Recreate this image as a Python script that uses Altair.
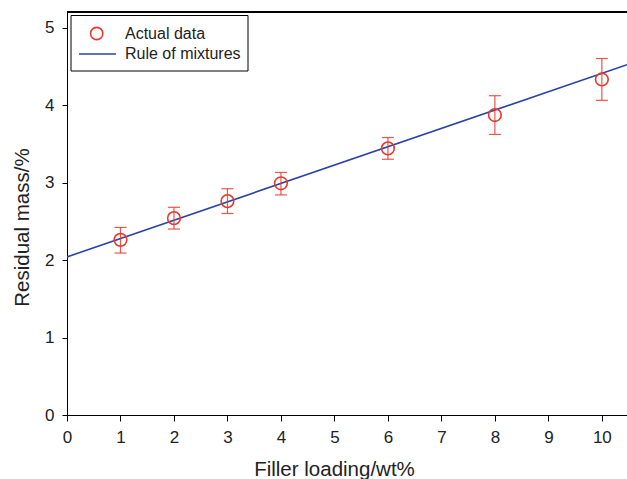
import altair as alt
import pandas as pd

# Data
loading = [1, 2, 3, 4, 6, 8, 10]
residual = [2.26, 2.54, 2.76, 2.99, 3.44, 3.87, 4.33]
err_high = [2.42, 2.68, 2.92, 3.13, 3.58, 4.12, 4.60]
err_low = [2.09, 2.40, 2.60, 2.84, 3.30, 3.62, 4.06]

mix_x = [0, 10.47]
mix_y = [2.04, 4.52]

x_ticks = [0, 1, 2, 3, 4, 5, 6, 7, 8, 9, 10]
y_ticks = [0, 1, 2, 3, 4, 5]

legend_labels = ["Actual data", "Rule of mixtures"]

RED = "#e5392e"
BLUE = "#2b44a3"
FONT = "Liberation Sans"

pts = pd.DataFrame({"x": loading, "y": residual, "hi": err_high, "lo": err_low})
mix = pd.DataFrame({"x": mix_x, "y": mix_y})

W, H = 560, 403

xscale = alt.Scale(domain=[0, 10.47], nice=False, zero=False)
yscale = alt.Scale(domain=[0, 5.2], nice=False)

xaxis = alt.Axis(values=x_ticks, title="Filler loading/wt%", grid=False, format="d",
                 tickSize=6, labelPadding=8, labelFontSize=17, labelFont=FONT,
                 labelColor="#222222", titleFont=FONT, titleFontSize=20.5,
                 titleFontWeight="normal", titleColor="#222222",
                 titleX=267, titleY=60, titleBaseline="alphabetic",
                 domainColor="black", tickColor="black", labelFlush=False)
yaxis = alt.Axis(values=y_ticks, title="Residual mass/%", grid=False, format="d",
                 tickSize=5, labelPadding=8, labelFontSize=17, labelFont=FONT,
                 labelColor="#222222", titleFont=FONT, titleFontSize=20.5,
                 titleFontWeight="normal", titleColor="#222222",
                 titleX=-38.5, titleY=215, titleBaseline="alphabetic",
                 domainColor="black", tickColor="black", labelFlush=False)

line = alt.Chart(mix).mark_line(color=BLUE, strokeWidth=1.6, clip=True).encode(
    x=alt.X("x:Q", scale=xscale, axis=xaxis),
    y=alt.Y("y:Q", scale=yscale, axis=yaxis),
)

rules = alt.Chart(pts).mark_rule(color=RED, strokeWidth=1.2, opacity=0.85).encode(
    x="x:Q", y="lo:Q", y2="hi:Q"
)
cap_hi = alt.Chart(pts).mark_tick(color=RED, orient="horizontal", size=12,
                                  thickness=1.2, opacity=0.85).encode(x="x:Q", y="hi:Q")
cap_lo = alt.Chart(pts).mark_tick(color=RED, orient="horizontal", size=12,
                                  thickness=1.2, opacity=0.85).encode(x="x:Q", y="lo:Q")

circles = alt.Chart(pts).mark_point(shape="circle", filled=False, color=RED,
                                    strokeWidth=1.6, size=160, opacity=1).encode(
    x="x:Q", y="y:Q"
)

# top border of the frame
top = alt.Chart(pts).mark_rule(color="black", strokeWidth=1.2).encode(
    x=alt.value(0), x2=alt.value(W), y=alt.value(0)
)

# legend box
leg_df = pd.DataFrame({"label": legend_labels})
leg_box = alt.Chart(leg_df).transform_filter(alt.datum.label == legend_labels[0]).mark_rect(
    fill="white", stroke="black", strokeWidth=1
).encode(x=alt.value(4), x2=alt.value(181), y=alt.value(3.5), y2=alt.value(59))
leg_circle = alt.Chart(leg_df).transform_filter(alt.datum.label == legend_labels[0]).mark_point(
    shape="circle", filled=False, color=RED, strokeWidth=1.6, size=150, opacity=1
).encode(x=alt.value(29.7), y=alt.value(21.5))
leg_line = alt.Chart(leg_df).transform_filter(alt.datum.label == legend_labels[1]).mark_rule(
    color=BLUE, strokeWidth=1.6
).encode(x=alt.value(12), x2=alt.value(49), y=alt.value(42))
leg_text1 = alt.Chart(leg_df).transform_filter(alt.datum.label == legend_labels[0]).mark_text(
    align="left", baseline="middle", font=FONT, fontSize=16, color="#222222"
).encode(x=alt.value(58), y=alt.value(21.5), text="label:N")
leg_text2 = alt.Chart(leg_df).transform_filter(alt.datum.label == legend_labels[1]).mark_text(
    align="left", baseline="middle", font=FONT, fontSize=16, color="#222222"
).encode(x=alt.value(58), y=alt.value(42), text="label:N")

chart = alt.layer(
    line, rules, cap_hi, cap_lo, circles, top,
    leg_box, leg_circle, leg_line, leg_text1, leg_text2
).properties(
    width=W, height=H,
    autosize=alt.AutoSizeParams(type="none"),
    padding={"left": 67, "top": 12, "right": 0, "bottom": 64},
    background="white",
).configure_view(stroke=None)

chart.save("out.html", embed_options={"renderer": "svg", "actions": False})
